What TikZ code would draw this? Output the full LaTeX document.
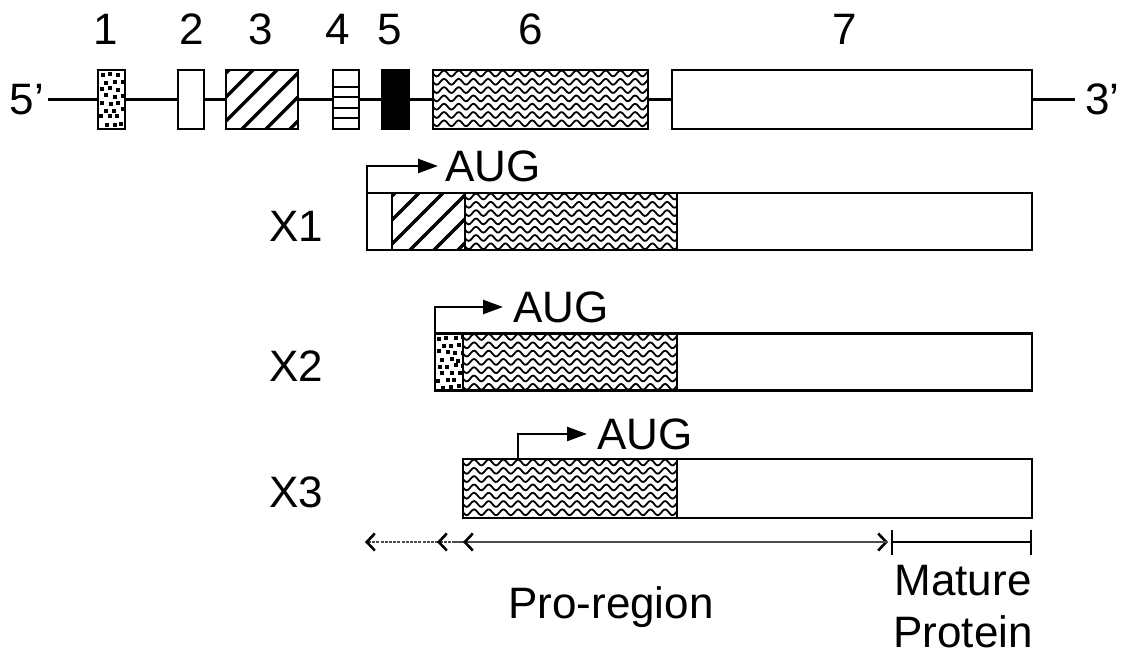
\documentclass[tikz,border=0pt]{standalone}
\usepackage{fontspec}
\setmainfont{Liberation Sans}
\usetikzlibrary{arrows.meta,calc}

\tikzset{
  x=1pt, y=-1pt,
  txt/.style={font=\fontsize{44}{55}\selectfont, inner sep=0pt, text height=31pt, text depth=0pt},
  boxline/.style={line width=2.2pt},
  exon/.style={draw, boxline, fill=white, inner sep=0pt, outer sep=0pt, minimum height=59pt},
  seg/.style={draw, boxline, fill=white, inner sep=0pt, outer sep=0pt, minimum height=57pt, anchor=west},
  gline/.style={line width=2.2pt},
  start/.style={line width=2.4pt, -{Triangle[length=20pt,width=14pt]}},
  solidfill/.style={fill=black},
  proline/.style={draw=black!70, line width=2.6pt, dash pattern=on 3pt off 1.2pt},
  barb/.tip={Straight Barb[length=8pt,width=17pt,line width=2.6pt,color=black]},
}

% patterns, clipped to a box node and outlined again afterwards
\newcommand\boxpattern[2]{%
  \begin{scope}
    \clip (#1.north west) rectangle (#1.south east);
    \begin{scope}[shift={(#1.north west)}]
      #2
    \end{scope}
  \end{scope}
  \draw[boxline] (#1.north west) rectangle (#1.south east);
}
\newcommand\dotsin[1]{\boxpattern{#1}{%
  \foreach \j in {0,...,8}{
    \foreach \i in {0,...,3}{
      \fill ({2+\i*8+mod(\j,2)*4+rand*1.3}, {3+\j*7+rand*1.2}) rectangle ++(4pt,-4pt);
    }
  }}}
\newcommand\hatchin[1]{\boxpattern{#1}{%
  \foreach \k in {-4,...,5}
    \draw[line width=3.4pt] ({\k*24}, 75) -- ++(85,-85);}}
\newcommand\stripesin[1]{\boxpattern{#1}{%
  \foreach \h in {17,27.5,38,48}
    \draw[line width=2pt] (-2,\h) -- (40,\h);}}
\newcommand\wavesin[1]{\boxpattern{#1}{%
  \foreach \r in {0,...,7}
    \draw[line width=1.8pt] plot[domain=-4:222, samples=150]
      (\x, {3.5+\r*8.3+2.9*sin(24.49*\x)});}}

\begin{document}
\begin{tikzpicture}
\pgfmathsetseed{11}
\useasboundingbox (0,0) rectangle (1131,655);

% exon numbers
\node[txt] (n1) at (106,29) {1};
\node[txt] (n2) at (192,29) {2};
\node[txt] (n3) at (261,29) {3};
\node[txt] (n4) at (338,29) {4};
\node[txt] (n5) at (390,29) {5};
\node[txt] (n6) at (531,29) {6};
\node[txt] (n7) at (845,29) {7};

% gene: exons on the backbone
\node[txt, inner sep=4pt, anchor=east] (p5) at (48,99.5) {5’};
\node[txt, inner sep=10pt, anchor=west] (p3) at (1075,99.5) {3’};
\node[exon, minimum width=27pt]  (e1) at (111.5,99.5) {};
\node[exon, minimum width=26pt]  (e2) at (191,99.5) {};
\node[exon, minimum width=72pt]  (e3) at (262,99.5) {};
\node[exon, minimum width=26pt]  (e4) at (346,99.5) {};
\node[exon, solidfill, minimum width=27pt]  (e5) at (395.5,99.5) {};
\node[exon, minimum width=215pt] (e6) at (540.5,99.5) {};
\node[exon, minimum width=360pt] (e7) at (852,99.5) {};
\dotsin{e1}
\hatchin{e3}
\stripesin{e4}
\wavesin{e6}
\draw[gline] (p5.east) -- (e1.west) (e1.east) -- (e2.west) (e2.east) -- (e3.west)
  (e3.east) -- (e4.west) (e4.east) -- (e5.west) (e5.east) -- (e6.west)
  (e6.east) -- (e7.west) (e7.east) -- (p3.west);

% transcript X1
\node[txt] (l1) at (296,226) {X1};
\node[seg, minimum width=25pt]  (x1a) at (367,221.5) {};
\node[seg, minimum width=73pt]  (x1b) at (x1a.east) {};
\node[seg, minimum width=212pt] (x1c) at (x1b.east) {};
\node[seg, minimum width=355pt] (x1d) at (x1c.east) {};
\hatchin{x1b}
\wavesin{x1c}
\node[txt, anchor=west] (aug1) at (445,166) {AUG};
\draw[start] (x1a.north west) |- ([xshift=-7pt]aug1.west);

% transcript X2
\node[txt] (l2) at (296,366) {X2};
\node[seg, minimum width=28pt]  (x2a) at (435,362) {};
\node[seg, minimum width=214pt] (x2b) at (x2a.east) {};
\node[seg, minimum width=355pt] (x2c) at (x2b.east) {};
\dotsin{x2a}
\wavesin{x2b}
\node[txt, anchor=west] (aug2) at (513,307) {AUG};
\draw[start] (x2a.north west) |- ([xshift=-10pt]aug2.west);

% transcript X3
\node[txt] (l3) at (296,492) {X3};
\node[seg, minimum width=214pt, minimum height=59pt] (x3a) at (463,488.5) {};
\node[seg, minimum width=355pt, minimum height=59pt] (x3b) at (x3a.east) {};
\wavesin{x3a}
\node[txt, anchor=west] (aug3) at (597,434) {AUG};
\coordinate (s3) at ([xshift=55pt]x3a.north west);
\draw[start] (s3) |- ([xshift=-10pt]aug3.west);

% pro-region and mature protein spans
\coordinate (pr) at (888,542);
\coordinate (pl1) at ([xshift=-2pt]x1a.west |- pr);
\coordinate (pl2) at ([xshift=2pt]x2a.west |- pr);
\coordinate (pl3) at (x3a.west |- pr);
\coordinate (mr) at (x1d.east |- pr);
\draw[proline, {barb}-{barb}] (pl1) -- (pr);
\draw[proline, {barb}-] (pl2) -- (pr);
\draw[proline, {barb}-] (pl3) -- (pr);
\draw[line width=2.2pt, {Bar[width=25pt,line width=2.2pt]}-{Bar[width=25pt,line width=2.2pt]}]
  ([xshift=3pt]pr) -- (mr);

\node[txt] (pro) at (611,603) {Pro-region};
\node[font=\fontsize{44}{52}\selectfont, inner sep=0pt, align=center, anchor=north] (mat)
  at (963,565) {Mature\\Protein};
\end{tikzpicture}
\end{document}
